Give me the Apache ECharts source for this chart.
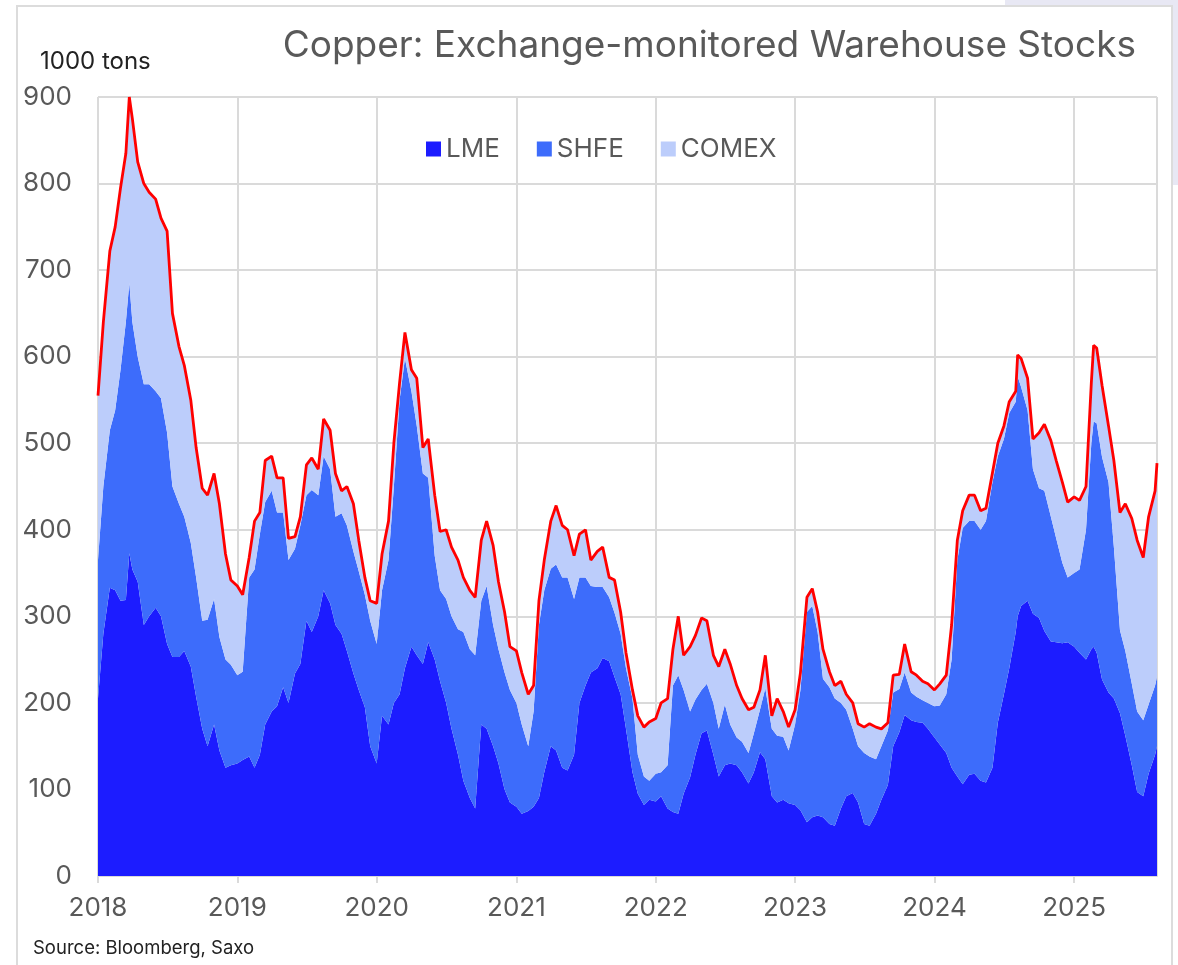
<!DOCTYPE html>
<html>
<head>
<meta charset="utf-8">
<title>Copper: Exchange-monitored Warehouse Stocks</title>
<script src="https://cdn.jsdelivr.net/npm/echarts@6/dist/echarts.min.js"></script>
<style>
  html, body { margin: 0; padding: 0; background: #fff; }
  #chart { width: 1178px; height: 965px; }
</style>
</head>
<body>
<div id="chart"></div>
<script>
// semi-monthly readings, 1000 tons (a few extra dates at the peaks)
const dates = [
  '2018-01-01','2018-01-15','2018-02-01','2018-02-15','2018-03-01','2018-03-15','2018-03-24','2018-04-01','2018-04-15','2018-05-01','2018-05-15','2018-06-01','2018-06-15','2018-07-01','2018-07-15','2018-08-01','2018-08-15','2018-09-01','2018-09-15','2018-10-01','2018-10-15','2018-11-01','2018-11-15','2018-12-01','2018-12-15',
  '2019-01-01','2019-01-15','2019-02-01','2019-02-15','2019-03-01','2019-03-15','2019-04-01','2019-04-15','2019-05-01','2019-05-15','2019-06-01','2019-06-15','2019-07-01','2019-07-15','2019-08-01','2019-08-15','2019-09-01','2019-09-15','2019-10-01','2019-10-15','2019-11-01','2019-11-15','2019-12-01','2019-12-15',
  '2020-01-01','2020-01-15','2020-02-01','2020-02-15','2020-03-01','2020-03-15','2020-04-01','2020-04-15','2020-05-01','2020-05-15','2020-06-01','2020-06-15','2020-07-01','2020-07-15','2020-08-01','2020-08-15','2020-09-01','2020-09-15','2020-10-01','2020-10-15','2020-11-01','2020-11-15','2020-12-01','2020-12-15',
  '2021-01-01','2021-01-15','2021-02-01','2021-02-15','2021-03-01','2021-03-15','2021-04-01','2021-04-15','2021-05-01','2021-05-15','2021-06-01','2021-06-15','2021-07-01','2021-07-15','2021-08-01','2021-08-15','2021-09-01','2021-09-15','2021-10-01','2021-10-15','2021-11-01','2021-11-15','2021-12-01','2021-12-15',
  '2022-01-01','2022-01-15','2022-02-01','2022-02-15','2022-03-01','2022-03-15','2022-04-01','2022-04-15','2022-05-01','2022-05-15','2022-06-01','2022-06-15','2022-07-01','2022-07-15','2022-08-01','2022-08-15','2022-09-01','2022-09-15','2022-10-01','2022-10-15','2022-11-01','2022-11-15','2022-12-01','2022-12-15',
  '2023-01-01','2023-01-15','2023-02-01','2023-02-15','2023-03-01','2023-03-15','2023-04-01','2023-04-15','2023-05-01','2023-05-15','2023-06-01','2023-06-15','2023-07-01','2023-07-15','2023-08-01','2023-08-15','2023-09-01','2023-09-15','2023-10-01','2023-10-15','2023-11-01','2023-11-15','2023-12-01','2023-12-15',
  '2024-01-01','2024-01-15','2024-02-01','2024-02-15','2024-03-01','2024-03-15','2024-04-01','2024-04-15','2024-05-01','2024-05-15','2024-06-01','2024-06-15','2024-07-01','2024-07-15','2024-08-01','2024-08-06','2024-08-15','2024-09-01','2024-09-15','2024-10-01','2024-10-15','2024-11-01','2024-11-15','2024-12-01','2024-12-15',
  '2025-01-01','2025-01-15','2025-02-01','2025-02-15','2025-02-21','2025-03-01','2025-03-15','2025-04-01','2025-04-15','2025-05-01','2025-05-15','2025-06-01','2025-06-15','2025-07-01','2025-07-15','2025-08-01','2025-08-06'
];

const lme = [
  205,280,333,330,318,319,373,354,340,290,300,310,300,268,253,253,260,242,207,170,150,175,145,125,128,
  130,134,138,125,140,175,190,196,218,200,234,245,295,282,300,330,315,290,280,260,234,215,195,150,
  130,185,175,200,210,240,265,255,245,270,250,225,200,170,140,110,90,78,175,170,150,130,100,85,
  80,72,75,80,90,120,150,145,125,122,140,200,220,235,240,252,248,230,210,170,120,95,82,88,
  86,92,78,74,72,95,114,140,165,168,140,115,128,130,128,120,107,120,143,135,92,85,88,84,
  82,76,62,68,70,68,60,58,78,92,96,85,60,58,72,88,105,150,166,186,180,178,177,170,
  160,152,142,125,115,106,117,118,110,108,125,177,210,240,282,300,312,318,303,298,283,271,270,269,270,
  265,258,250,262,265,258,227,212,205,188,162,128,97,92,118,140,150
];

const shfe = [
  160,170,182,208,267,321,312,286,260,278,268,250,252,244,197,177,155,143,138,125,146,145,131,125,116,
  102,102,207,229,255,257,255,224,202,165,144,160,145,164,140,155,155,125,139,145,141,137,130,145,
  138,145,190,250,340,358,295,265,220,190,120,105,120,130,145,172,172,177,143,165,140,132,135,130,
  120,103,75,110,200,210,205,215,220,223,180,145,125,100,94,82,74,74,70,70,85,45,33,22,
  32,28,50,146,160,120,76,64,50,54,60,55,70,45,32,35,35,45,49,82,78,77,73,61,
  93,139,243,244,212,160,158,147,122,100,74,65,82,80,63,62,63,62,50,49,32,29,26,30,
  36,45,68,125,250,296,293,292,290,302,330,308,295,295,266,277,253,220,167,150,162,144,120,93,75,
  85,96,150,238,260,265,257,243,175,96,98,94,93,88,80,80,80
];

const comex = [
  190,190,207,212,210,195,215,235,225,232,222,222,208,233,200,182,175,165,150,153,144,145,154,122,98,
  103,89,23,56,25,48,40,40,40,25,14,10,35,37,30,43,45,50,26,45,55,36,20,23,
  47,42,45,50,20,30,25,55,30,45,70,68,80,80,80,63,68,67,70,75,92,78,70,50,
  60,60,60,30,28,35,55,68,60,55,50,50,55,30,41,46,23,38,25,18,10,45,57,68,
  64,80,77,42,68,40,75,74,83,73,55,72,64,70,60,50,50,30,23,38,15,43,29,27,
  17,20,17,20,23,34,18,15,25,18,30,26,30,38,37,20,9,20,17,33,24,25,22,22,
  19,25,22,40,23,20,30,30,22,15,11,15,15,13,12,25,33,37,35,64,77,88,90,93,87,
  88,80,50,70,88,87,83,65,100,136,170,191,198,188,217,225,247
];

const yTicks = [0, 100, 200, 300, 400, 500, 600, 700, 800, 900];

const colors = {
  lme: '#1c1cff',
  shfe: '#3d6cfb',
  comex: '#bccdfb',
  total: '#ff0000',
  grid: '#dadada',
  text: '#595959',
};

const total = lme.map((v, i) => v + shfe[i] + comex[i]);
const pair = arr => dates.map((d, i) => [d, arr[i]]);

const areaSeries = (name, values, color) => ({
  name,
  type: 'line',
  stack: 'stocks',
  data: pair(values),
  showSymbol: false,
  symbol: 'none',
  lineStyle: { width: 0 },
  itemStyle: { color },
  areaStyle: { color, opacity: 1 },
  emphasis: { disabled: true },
  animation: false,
});

const chart = echarts.init(document.getElementById('chart'));
const YEAR = 365 * 24 * 3600 * 1000;

chart.setOption({
  backgroundColor: '#fff',
  textStyle: { fontFamily: 'Inter, "Noto Sans", sans-serif' },
  title: [
    {
      text: 'Copper: Exchange-monitored Warehouse Stocks',
      right: 42,
      top: 27,
      padding: 0,
      textStyle: { fontSize: 37, fontWeight: 'normal', color: colors.text },
    },
    {
      text: '1000 tons',
      left: 40,
      top: 50,
      padding: 0,
      textStyle: { fontSize: 24, fontWeight: 'normal', color: '#222' },
    },
    {
      text: 'Source: Bloomberg, Saxo',
      left: 33,
      top: 939,
      padding: 0,
      textStyle: { fontSize: 18.5, fontWeight: 'normal', color: '#222' },
    },
  ],
  legend: {
    data: ['LME', 'SHFE', 'COMEX'],
    left: 421,
    top: 131,
    icon: 'rect',
    itemWidth: 15,
    itemHeight: 15,
    itemGap: 37,
    textStyle: { fontSize: 26, color: colors.text },
  },
  grid: { left: 98, right: 21, top: 97, bottom: 89 },
  xAxis: {
    type: 'time',
    min: dates[0],
    max: dates[dates.length - 1],
    minInterval: YEAR,
    maxInterval: YEAR * 1.01,
    axisLine: { lineStyle: { color: colors.grid, width: 2 } },
    axisTick: { show: true, length: 7, lineStyle: { color: colors.grid, width: 2 } },
    axisLabel: {
      formatter: '{yyyy}',
      fontSize: 26,
      color: colors.text,
      margin: 19,
      showMaxLabel: false,
    },
    splitLine: { show: true, lineStyle: { color: colors.grid, width: 2 } },
  },
  yAxis: {
    type: 'value',
    min: yTicks[0],
    max: yTicks[yTicks.length - 1],
    interval: 100,
    axisLine: { show: false },
    axisTick: { show: false },
    axisLabel: { fontSize: 26, color: colors.text, margin: 26 },
    splitLine: { lineStyle: { color: colors.grid, width: 2 } },
  },
  series: [
    areaSeries('LME', lme, colors.lme),
    areaSeries('SHFE', shfe, colors.shfe),
    areaSeries('COMEX', comex, colors.comex),
    {
      name: 'Total',
      type: 'line',
      data: pair(total),
      showSymbol: false,
      symbol: 'none',
      lineStyle: { color: colors.total, width: 2.8 },
      z: 5,
      animation: false,
    },
  ],
  graphic: [
    {
      type: 'rect',
      shape: { x: 17, y: 6, width: 1155, height: 990 },
      style: { fill: 'none', stroke: '#dcdcdc', lineWidth: 2 },
      silent: true,
    },
    {
      type: 'rect',
      shape: { x: 1173, y: 0, width: 5, height: 185 },
      style: { fill: '#e8e8f4' },
      silent: true,
    },
    {
      type: 'rect',
      shape: { x: 1005, y: 0, width: 173, height: 5 },
      style: { fill: '#e8e8f4' },
      silent: true,
    },
  ],
});
</script>
</body>
</html>
